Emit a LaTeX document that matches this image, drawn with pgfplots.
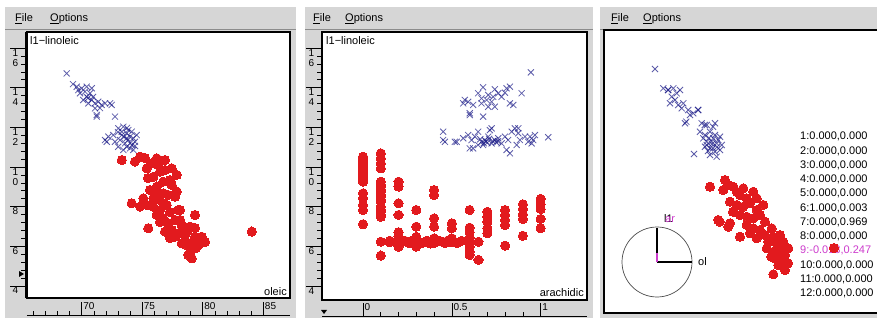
\documentclass[border=0pt]{standalone}
\usepackage{pgfplots}
\pgfplotsset{compat=1.18}
\usepackage{fontspec}
\setmainfont{Liberation Sans}
\definecolor{winbg}{RGB}{214,214,214}
\definecolor{ptred}{RGB}{226,26,30}
\definecolor{ptblue}{RGB}{25,25,135}
\definecolor{mag}{RGB}{205,60,205}
\newcommand\menufont{\fontsize{11}{13}\selectfont}
\newcommand\rulerfont{\fontsize{10}{10}\selectfont}
\newcommand\lblfont{\fontsize{11}{13}\selectfont}
\pgfplotsset{
  panel/.style={scale only axis, axis background/.style={fill=white},
    axis line style={line width=2.4pt}, xtick=\empty, ytick=\empty, clip=true},
  xruler/.style={scale only axis, height=13pt, ymin=0, ymax=1,
    axis x line*=bottom, axis y line=none, ytick=\empty, tick align=inside,
    major tick length=13pt, minor tick length=4pt, minor x tick num=4,
    every tick/.style={black, line width=0.6pt}, axis line style={line width=0.8pt},
    xticklabel style={anchor=north west, inner sep=0pt, xshift=1.5pt, yshift=12.5pt, font=\rulerfont}},
  yruler/.style={scale only axis, width=15pt, xmin=0, xmax=1,
    axis y line*=right, axis x line=none, xtick=\empty, tick align=inside,
    major tick length=15pt, minor tick length=4pt, minor y tick num=4,
    every tick/.style={black, line width=0.6pt}, axis line style={line width=0.8pt},
    yticklabel style={anchor=north east, inner sep=0pt, xshift=-6.5pt, yshift=-1pt, font=\rulerfont}},
  redpts/.style={only marks, mark=*, mark size=4.6pt, mark options={fill=ptred, draw=ptred, line width=0pt}},
  bluepts/.style={only marks, mark=x, mark size=4.3pt, mark options={draw=ptblue, line width=0.8pt, draw opacity=0.7}},
}
\begin{document}
\begin{tikzpicture}[x=1pt,y=1pt]
\fill[white] (0,0) rectangle (877,320);
% windows
\fill[winbg] (5,2) rectangle (295.5,313);
\fill[winbg] (305,2) rectangle (593,313);
\fill[winbg] (600,2) rectangle (877,313);
\draw[black!45, line width=0.6pt] (5,290.5) -- (295.5,290.5);
\draw[black!45, line width=0.6pt] (305,290.5) -- (593,290.5);
\draw[black!45, line width=0.6pt] (600,290.5) -- (877,290.5);
% menus
\node[anchor=base west, inner sep=0pt, font=\menufont] at (15,298) {\underline{F}ile};
\node[anchor=base west, inner sep=0pt, font=\menufont] at (50,298) {\underline{O}ptions};
\node[anchor=base west, inner sep=0pt, font=\menufont] at (313,298) {\underline{F}ile};
\node[anchor=base west, inner sep=0pt, font=\menufont] at (345,298) {\underline{O}ptions};
\node[anchor=base west, inner sep=0pt, font=\menufont] at (611,298) {\underline{F}ile};
\node[anchor=base west, inner sep=0pt, font=\menufont] at (643,298) {\underline{O}ptions};

% ===== Panel 1: oleic vs l1-linoleic =====
\begin{axis}[yruler, at={(10pt,22pt)}, anchor=south west, height=266pt, ymin=3.39, ymax=16.81,
  ytick={4,6,8,10,12,14,16},
  yticklabels={4,6,8,{\shortstack{1\\0}},{\shortstack{1\\2}},{\shortstack{1\\4}},{\shortstack{1\\6}}}]
\end{axis}
\begin{axis}[xruler, at={(27pt,5pt)}, anchor=south west, width=263pt, xmin=65.48, xmax=87.21,
  xtick={65,70,75,80,85}, xticklabels={65,70,75,80,85}]
\end{axis}
\begin{axis}[panel, at={(27pt,22pt)}, anchor=south west, width=263pt, height=266pt,
  xmin=65.48, xmax=87.21, ymin=3.39, ymax=16.81]
\addplot[bluepts] table {
68.76 14.72
69.59 14.05
70.00 13.97
70.27 13.80
69.86 13.72
70.41 13.54
70.69 13.72
70.83 13.38
71.10 13.21
71.37 13.29
71.65 13.13
71.93 13.21
72.34 13.21
71.24 12.54
71.10 12.96
70.55 13.21
70.13 13.38
69.72 13.88
70.83 13.97
70.41 14.05
72.75 12.54
73.02 11.95
73.44 12.03
73.85 11.86
74.13 11.78
73.31 11.61
73.72 11.45
74.26 11.45
73.58 11.19
73.99 11.19
74.40 11.27
71.93 11.36
72.20 11.53
72.61 11.61
72.75 11.27
73.02 11.02
73.44 10.86
73.99 10.94
74.26 10.86
73.17 11.36
73.72 11.70
74.54 11.61
73.31 11.78
73.99 11.53
73.72 11.02
72.07 11.27
71.24 12.62
72.48 13.13
69.28 14.18
70.52 13.48
70.93 13.53
71.51 12.97
73.83 11.36
74.16 11.11
73.50 11.51
73.74 11.97
73.00 11.76
74.40 11.06
};
\addplot[redpts] table {
73.31 10.35
74.40 10.27
74.82 10.52
75.23 10.45
75.37 9.93
75.78 10.19
76.20 10.44
76.88 10.35
75.92 9.51
76.47 9.76
77.44 9.93
77.85 9.60
77.30 9.34
76.20 9.01
76.74 8.67
77.16 8.59
77.71 8.50
75.92 8.42
75.09 8.42
74.13 8.17
74.82 8.00
75.37 8.08
75.92 8.00
76.47 7.83
77.02 8.08
77.98 7.83
79.36 7.58
76.20 7.58
76.74 7.41
77.16 7.16
77.71 7.33
78.26 7.07
78.95 6.99
75.50 6.91
76.88 6.74
77.44 6.82
77.98 6.66
78.68 6.74
79.36 6.48
79.92 6.48
79.64 6.07
78.95 6.15
78.26 6.15
77.71 6.48
79.78 6.32
78.95 5.65
79.09 5.39
78.81 5.56
84.05 6.74
77.85 8.76
77.44 9.09
76.74 9.26
76.31 10.10
75.48 9.44
76.47 8.33
77.30 7.73
78.54 6.57
79.36 6.92
78.12 7.33
76.47 7.23
80.19 6.22
79.45 5.91
77.30 6.42
78.62 6.07
75.64 8.84
76.88 9.85
76.22 8.59
78.12 7.83
76.74 8.17
};
\end{axis}
\node[anchor=base west, inner sep=0pt, font=\lblfont] at (30,275) {l1−linoleic};
\node[anchor=base east, inner sep=0pt, font=\lblfont] at (287,24) {oleic};
\fill (19,43) -- (24,46) -- (19,49) -- cycle;

% ===== Panel 2: arachidic vs l1-linoleic =====
\begin{axis}[yruler, at={(306pt,20pt)}, anchor=south west, height=268pt, ymin=3.29, ymax=16.81,
  ytick={4,6,8,10,12,14,16},
  yticklabels={4,6,8,{\shortstack{1\\0}},{\shortstack{1\\2}},{\shortstack{1\\4}},{\shortstack{1\\6}}}]
\end{axis}
\begin{axis}[xruler, at={(322pt,4pt)}, anchor=south west, width=265pt, xmin=-0.231, xmax=1.261,
  xtick={0,0.5,1}, xticklabels={0,0.5,1}]
\end{axis}
\begin{axis}[panel, at={(322pt,20pt)}, anchor=south west, width=265pt, height=268pt,
  xmin=-0.231, xmax=1.261, ymin=3.29, ymax=16.81]
\addplot[bluepts] table {
0.945 14.77
0.676 14.02
0.742 13.92
0.808 13.97
0.827 14.05
0.893 13.72
0.799 13.75
0.761 13.72
0.705 13.63
0.648 13.72
0.667 13.46
0.696 13.38
0.724 13.29
0.573 13.38
0.564 13.21
0.592 13.29
0.620 13.13
0.667 13.21
0.705 13.04
0.742 13.04
0.827 13.21
0.846 13.13
0.601 12.71
0.676 12.54
0.780 13.54
0.733 13.54
0.601 12.62
0.451 11.78
0.451 11.36
0.527 11.27
0.564 11.45
0.592 11.61
0.611 11.36
0.630 11.53
0.648 11.78
0.667 11.27
0.686 11.36
0.705 11.53
0.714 11.86
0.724 11.19
0.742 11.36
0.761 11.45
0.780 11.19
0.799 11.53
0.817 11.36
0.837 11.78
0.855 11.95
0.874 11.70
0.883 11.36
0.912 11.53
0.930 11.27
0.958 11.36
0.968 11.61
1.043 11.50
0.808 10.86
0.827 10.69
0.620 10.94
0.648 11.11
0.676 11.11
0.865 11.11
0.949 11.19
0.461 11.27
0.517 11.27
0.601 10.94
0.724 11.95
0.940 11.53
0.874 11.95
0.690 11.30
0.700 11.22
0.730 11.30
0.750 11.25
0.710 11.42
0.760 11.30
0.660 11.40
0.680 11.20
};
\addplot[redpts] table {
0 10.52
0 10.40
0 10.27
0 10.14
0 10.01
0 9.88
0 9.76
0 9.63
0 9.51
0 9.38
0 9.26
0 8.67
0 8.42
0 8.08
0 7.83
0 7.11
0.1 10.69
0.1 10.44
0.1 10.19
0.1 9.93
0.1 9.26
0.1 9.13
0.1 9.01
0.1 8.88
0.1 8.75
0.1 8.62
0.1 8.50
0.1 8.37
0.1 8.25
0.1 8.00
0.1 7.87
0.1 7.74
0.1 7.61
0.1 7.49
0.1 6.23
0.1 5.53
0.15 6.20
0.2 9.26
0.2 9.01
0.2 8.17
0.2 7.58
0.2 6.71
0.2 6.48
0.2 6.20
0.2 5.98
0.3 7.83
0.3 6.99
0.3 6.48
0.3 6.23
0.3 5.98
0.4 8.84
0.4 8.59
0.4 7.41
0.4 6.99
0.4 6.40
0.4 6.20
0.5 7.16
0.5 6.91
0.5 6.40
0.5 6.20
0.6 7.83
0.6 6.94
0.6 6.71
0.6 6.43
0.6 6.20
0.6 5.98
0.6 5.73
0.6 5.56
0.65 6.23
0.65 5.31
0.7 7.74
0.7 7.49
0.7 7.24
0.7 6.91
0.7 6.66
0.8 7.83
0.8 7.58
0.8 7.33
0.8 7.07
0.8 6.03
0.9 8.12
0.9 7.88
0.9 7.61
0.9 7.38
0.9 6.53
1.0 8.39
1.0 8.12
1.0 7.88
1.0 7.38
1.0 6.91
0.15 6.28
0.20 6.16
0.235 6.28
0.26 6.16
0.30 6.28
0.33 6.16
0.36 6.28
0.40 6.16
0.43 6.28
0.46 6.16
0.50 6.28
0.53 6.16
0.555 6.28
0.25 6.22
0.35 6.22
0.45 6.22
0.48 6.30
0.38 6.14
0.28 6.30
};
\end{axis}
\node[anchor=base west, inner sep=0pt, font=\lblfont] at (326,275) {l1−linoleic};
\node[anchor=base east, inner sep=0pt, font=\lblfont] at (584,23) {arachidic};
\fill (321,10) -- (327,10) -- (324,6) -- cycle;

% ===== Panel 3: tour projection =====
\begin{axis}[panel, at={(604pt,7pt)}, anchor=south west, width=290pt, height=283pt,
  xmin=604, xmax=894, ymin=30, ymax=313, y dir=reverse]
\draw[black!70, line width=0.7pt] (axis cs:657,262) circle [radius=35];
\draw[black, line width=1.1pt] (axis cs:657,262) -- (axis cs:692,262);
\draw[black, line width=1.1pt] (axis cs:657,262) -- (axis cs:657,228);
\draw[mag, line width=1.4pt] (axis cs:657,262) -- (axis cs:657,253);
\node[anchor=base west, inner sep=0pt, font=\lblfont] at (axis cs:698,266) {ol};
\node[anchor=base west, inner sep=0pt, font=\lblfont] at (axis cs:664,223) {l1};
\node[anchor=base west, inner sep=0pt, font=\lblfont, text=mag] at (axis cs:665,223) {ar};
\node[anchor=base west, inner sep=0pt, font=\lblfont] at (axis cs:800,140) {1:0.000,0.000};
\node[anchor=base west, inner sep=0pt, font=\lblfont] at (axis cs:800,154.25) {2:0.000,0.000};
\node[anchor=base west, inner sep=0pt, font=\lblfont] at (axis cs:800,168.5) {3:0.000,0.000};
\node[anchor=base west, inner sep=0pt, font=\lblfont] at (axis cs:800,182.75) {4:0.000,0.000};
\node[anchor=base west, inner sep=0pt, font=\lblfont] at (axis cs:800,197) {5:0.000,0.000};
\node[anchor=base west, inner sep=0pt, font=\lblfont] at (axis cs:800,211.25) {6:1.000,0.003};
\node[anchor=base west, inner sep=0pt, font=\lblfont] at (axis cs:800,225.5) {7:0.000,0.969};
\node[anchor=base west, inner sep=0pt, font=\lblfont] at (axis cs:800,239.75) {8:0.000,0.000};
\node[anchor=base west, inner sep=0pt, font=\lblfont, text=mag] at (axis cs:800,254) {9:-0.018,0.247};
\node[anchor=base west, inner sep=0pt, font=\lblfont] at (axis cs:800,268.25) {10:0.000,0.000};
\node[anchor=base west, inner sep=0pt, font=\lblfont] at (axis cs:800,282.5) {11:0.000,0.000};
\node[anchor=base west, inner sep=0pt, font=\lblfont] at (axis cs:800,296.75) {12:0.000,0.000};
\addplot[bluepts] table {
655 69
663.3 88.3
668.3 90
673.3 88.3
676.7 93.3
680 90
671.7 96.7
675 100
670 103.3
678.3 105
683.3 103.3
681.7 108.3
688.3 110
690 115
685 123.3
693.3 113.3
698.3 110
701.7 123.3
706.7 125
715 123.3
700 131.7
705 135
710 131.7
715 135
720 136.7
706.7 141.7
711.7 141.7
716.7 143.3
721.7 145
705 146.7
710 148.3
715 151.7
720 150
694 154
710 155
716.7 156.7
706.7 145
713.3 138.3
718.3 140
703.3 138.3
668 90
698 110
704.7 125
713 126.7
686.3 121.7
713 148.3
709 138
712 144
717 147
708 151
};
\addplot[redpts] table {
710 186.7
725 180
728.3 185
723.3 190
733.3 186.7
736.7 191.7
743.3 188.3
740 195
746.7 198.3
753.3 191.7
756.7 198.3
730 201.7
736.7 205
743.3 206.7
750 203.3
763.3 205
756.7 210
733.3 211.7
740 215
746.7 216.7
753.3 218.3
760 215
765 221.7
718.3 220
728.3 226.7
730 223.3
740 236.7
746.7 225
753.3 228.3
760 230
750 233.3
756.7 238.3
765 235
771.7 228.3
773.3 236.7
780 235
768.3 241.7
776.7 243.3
783.3 241.7
766.7 248.3
773.3 251.7
780 250
785 255
775 258.3
781.7 261.7
786.7 263.3
778.3 265
785 270
780 255
773.3 274.3
788.3 248.3
783 245
788 263.3
771.3 256.7
761.3 233.3
719.7 221.7
733 211.7
834 248
};
\end{axis}
\pgfresetboundingbox
\useasboundingbox (0,0) rectangle (877,320);
\end{tikzpicture}
\end{document}
